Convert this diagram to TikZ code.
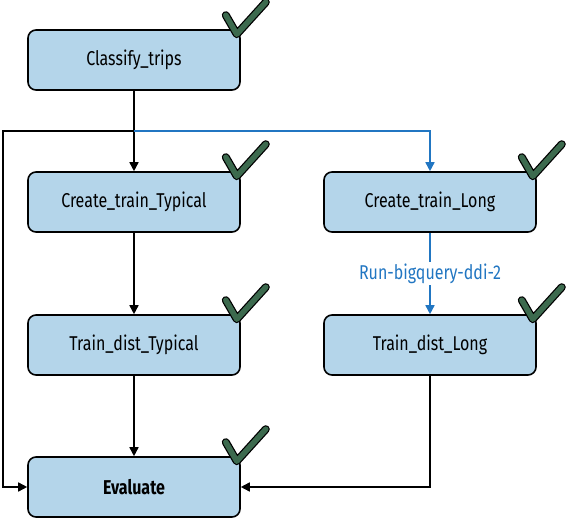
\documentclass[tikz,border=0pt]{standalone}
\usepackage{fontspec}
\setmainfont[FakeStretch=0.8]{Fira Sans}
\usetikzlibrary{arrows.meta}

\definecolor{boxblue}{HTML}{B4D5EA}
\definecolor{flowblue}{HTML}{2176C2}
\definecolor{tickgreen}{HTML}{3C6A4E}

\tikzset{
  stepbox/.style={draw=black, line width=1.6pt, fill=boxblue, rounded corners=8pt,
    minimum width=212pt, minimum height=60pt, inner sep=0pt,
    font=\fontsize{20}{22}\selectfont},
  flow/.style={line width=1.6pt, -{Triangle[length=9pt,width=9pt]}},
  blueflow/.style={flow, color=flowblue},
  runlabel/.style={fill=white, text=flowblue, inner sep=2pt, font=\fontsize{20}{22}\selectfont},
}

\begin{document}
\begin{tikzpicture}[x=1pt, y=-1pt]

    \useasboundingbox (0,0) rectangle (566,519);

    % the five steps and the two branches
    \node[stepbox] (classify) at (134, 60)  {Classify\_trips};
    \node[stepbox] (ctt)      at (134, 202) {Create\_train\_Typical};
    \node[stepbox] (ctl)      at (430, 202) {Create\_train\_Long};
    \node[stepbox] (tdt)      at (134, 345) {Train\_dist\_Typical};
    \node[stepbox] (tdl)      at (430, 345) {Train\_dist\_Long};
    \node[stepbox] (eval)     at (134, 487) {\bfseries Evaluate};

    \coordinate (split) at (134, 131);
    \coordinate (rail)  at (3, 131);

    \draw[line width=1.6pt] (classify) -- (split);
    \draw[flow] (split) -- (ctt);
    \draw[flow] (split) -- (rail) |- (eval.west);
    \draw[blueflow] (split) -| (ctl.north);
    \draw[blueflow] (ctl) -- node[runlabel] {Run-bigquery-ddi-2} (tdl);
    \draw[flow] (ctt) -- (tdt);
    \draw[flow] (tdt) -- (eval);
    \draw[flow] (tdl.south) |- (eval.east);

    % ticks on every step
    \foreach \s in {classify, ctt, ctl, tdt, tdl, eval} {
      \draw[line width=8pt, line cap=round, line join=round]
        ([shift={(-15,-14)}]\s.north east) -- ([shift={(-4,5)}]\s.north east) -- ([shift={(25,-27)}]\s.north east);
      \draw[tickgreen, line width=5.5pt, line cap=round, line join=round]
        ([shift={(-15,-14)}]\s.north east) -- ([shift={(-4,5)}]\s.north east) -- ([shift={(25,-27)}]\s.north east);
    }

\end{tikzpicture}
\end{document}
